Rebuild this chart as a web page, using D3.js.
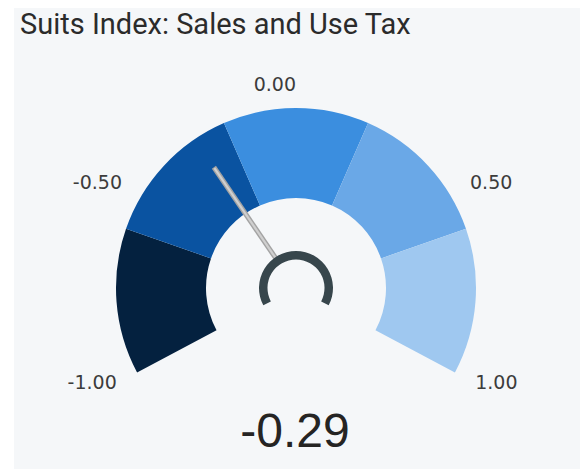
<!DOCTYPE html>
<html>
<head>
<meta charset="utf-8">
<script src="https://cdn.jsdelivr.net/npm/d3@7/dist/d3.min.js"></script>
<style>
    html, body { margin: 0; padding: 0; background: #fff; }
    svg { display: block; }
</style>
</head>
<body>
<div id="chart"></div>
<script>
    // gauge data
    const title = "Suits Index: Sales and Use Tax";
    const bandStops = [-1, -0.6, -0.2, 0.2, 0.6, 1];
    const bandColors = ["#04213f", "#0a53a1", "#3b8edf", "#6aa8e7", "#9fc8f0"];
    const tickValues = [-1, -0.5, 0, 0.5, 1];
    const value = -0.29;

    let width = 580,
        height = 470;

    const cx = 296, cy = 288,
        outer_r = 180, inner_r = 90,
        label_r = 203,
        needle_r = 146,
        hub_outer = 37, hub_inner = 28.5;

    const sweep = 118 * Math.PI / 180;

    // plain hyphen minus, like the original
    const fmt = v => v.toFixed(2);

    let svg = d3.select("#chart")
        .append("svg")
        .attr("width", width)
        .attr("height", height);

    // card background
    svg.append("rect")
        .attr("x", 14).attr("y", 8)
        .attr("width", width - 14).attr("height", height - 9)
        .attr("fill", "#f5f7f9");

    svg.append("text")
        .attr("x", 20).attr("y", 34)
        .attr("fill", "#2b2b2b")
        .style("font-family", "Roboto, 'Liberation Sans', sans-serif")
        .style("font-size", "29px")
        .text(title);

    // value -> angle (radians, clockwise from 12 o'clock)
    let angle = d3.scaleLinear().domain([-1, 1]).range([-sweep, sweep]);

    let g = svg.append("g").attr("transform", `translate(${cx},${cy})`);

    let arc = d3.arc().innerRadius(inner_r).outerRadius(outer_r);

    let bands = d3.range(bandColors.length).map(i => ({
        from: bandStops[i], to: bandStops[i + 1], color: bandColors[i]
    }));

    g.selectAll("path.band")
        .data(bands)
        .enter()
        .append("path")
        .attr("class", "band")
        .attr("fill", d => d.color)
        .attr("d", d => arc({startAngle: angle(d.from), endAngle: angle(d.to)}));

    // tick labels
    g.selectAll("text.tick")
        .data(tickValues)
        .enter()
        .append("text")
        .attr("class", "tick")
        .attr("x", d => label_r * Math.sin(angle(d)))
        .attr("y", d => -label_r * Math.cos(angle(d)))
        .attr("text-anchor", d => d <= 0 ? "end" : "start")
        .attr("dominant-baseline", "middle")
        .attr("fill", "#3c3c3c")
        .style("font-family", "'DejaVu Sans', sans-serif")
        .style("font-size", "19px")
        .text(fmt);

    // needle
    let a = angle(value);
    let nx = Math.sin(a), ny = -Math.cos(a);
    g.append("line")
        .attr("x1", nx * 30).attr("y1", ny * 30)
        .attr("x2", nx * needle_r).attr("y2", ny * needle_r)
        .attr("stroke", "#a3a3a3")
        .attr("stroke-width", 5);
    g.append("line")
        .attr("x1", nx * 30).attr("y1", ny * 30)
        .attr("x2", nx * (needle_r - 1)).attr("y2", ny * (needle_r - 1))
        .attr("stroke", "#cfcfcf")
        .attr("stroke-width", 2.2);

    // hub ring
    g.append("path")
        .attr("fill", "#37464c")
        .attr("d", d3.arc().innerRadius(hub_inner).outerRadius(hub_outer)
            ({startAngle: angle(-1), endAngle: angle(1)}));

    // value readout
    svg.append("text")
        .attr("x", 295).attr("y", 447)
        .attr("text-anchor", "middle")
        .attr("fill", "#252423")
        .style("font-family", "'Liberation Sans', Arial, sans-serif")
        .style("font-size", "48px")
        .text(fmt(value));
</script>
</body>
</html>
